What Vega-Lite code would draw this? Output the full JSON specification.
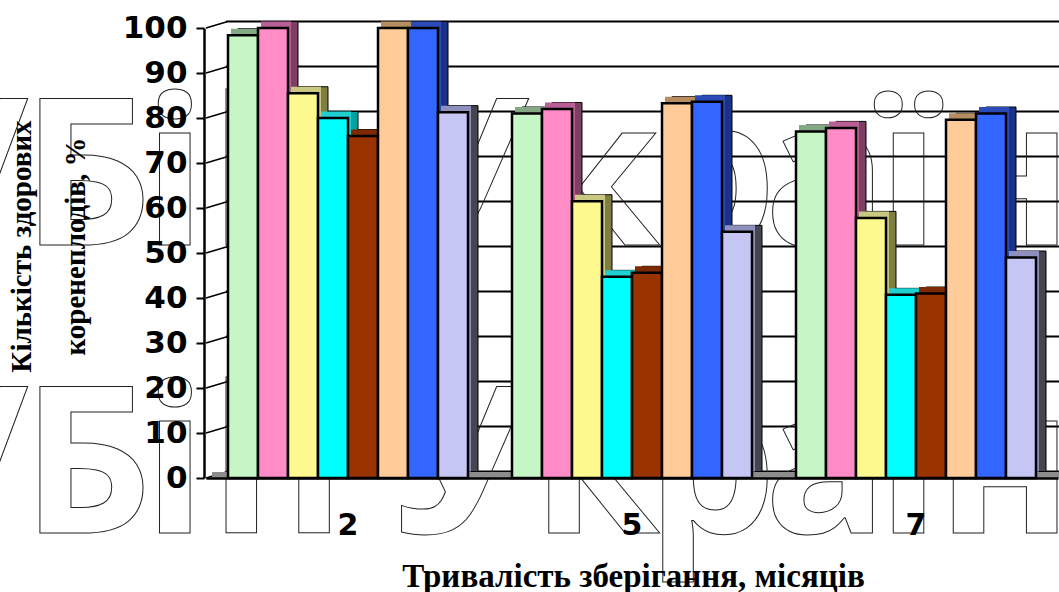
{
  "$schema": "https://vega.github.io/schema/vega-lite/v6.json",
  "width": 855,
  "height": 450,
  "autosize": "none",
  "padding": {"left": 204, "top": 28, "right": 0, "bottom": 114},
  "background": "#ffffff",
  "config": {"view": {"stroke": null}},
  "datasets": {
    "storage": [
      {"month": "2", "variant": "1", "healthy": 98.4},
      {"month": "2", "variant": "2", "healthy": 100},
      {"month": "2", "variant": "3", "healthy": 85.5},
      {"month": "2", "variant": "4", "healthy": 80},
      {"month": "2", "variant": "5", "healthy": 76},
      {"month": "2", "variant": "6", "healthy": 100},
      {"month": "2", "variant": "7", "healthy": 100},
      {"month": "2", "variant": "8", "healthy": 81.3},
      {"month": "5", "variant": "1", "healthy": 81},
      {"month": "5", "variant": "2", "healthy": 82},
      {"month": "5", "variant": "3", "healthy": 61.5},
      {"month": "5", "variant": "4", "healthy": 44.7},
      {"month": "5", "variant": "5", "healthy": 45.6},
      {"month": "5", "variant": "6", "healthy": 83.3},
      {"month": "5", "variant": "7", "healthy": 83.6},
      {"month": "5", "variant": "8", "healthy": 54.7},
      {"month": "7", "variant": "1", "healthy": 77},
      {"month": "7", "variant": "2", "healthy": 77.8},
      {"month": "7", "variant": "3", "healthy": 57.8},
      {"month": "7", "variant": "4", "healthy": 40.7},
      {"month": "7", "variant": "5", "healthy": 41},
      {"month": "7", "variant": "6", "healthy": 79.6},
      {"month": "7", "variant": "7", "healthy": 81},
      {"month": "7", "variant": "8", "healthy": 49}
    ],
    "levels": [
      {"level": 0, "back": 1.4}, {"level": 10, "back": 11.4}, {"level": 20, "back": 21.4},
      {"level": 30, "back": 31.4}, {"level": 40, "back": 41.4}, {"level": 50, "back": 51.4},
      {"level": 60, "back": 61.4}, {"level": 70, "back": 71.4}, {"level": 80, "back": 81.4},
      {"level": 90, "back": 91.4}, {"level": 100, "back": 101.4}
    ],
    "stamp": [
      {"line": "upper", "glyph": "/", "along": -1.3}, {"line": "lower", "glyph": "/", "along": -1.3},
      {"line": "upper", "glyph": "Б", "along": 8.2}, {"line": "lower", "glyph": "Б", "along": 8.2},
      {"line": "upper", "glyph": "і", "along": 16.5}, {"line": "lower", "glyph": "і", "along": 16.5},
      {"line": "upper", "glyph": "h", "along": 26.2}, {"line": "lower", "glyph": "h", "along": 26.2},
      {"line": "upper", "glyph": "У", "along": 43.5}, {"line": "lower", "glyph": "У", "along": 43.5},
      {"line": "upper", "glyph": "к", "along": 56.3}, {"line": "lower", "glyph": "к", "along": 56.3},
      {"line": "upper", "glyph": "р", "along": 67.2}, {"line": "lower", "glyph": "р", "along": 67.2},
      {"line": "upper", "glyph": "а", "along": 78}, {"line": "lower", "glyph": "а", "along": 78},
      {"line": "upper", "glyph": "ї", "along": 85.8}, {"line": "lower", "glyph": "ї", "along": 85.8},
      {"line": "upper", "glyph": "н", "along": 94.9}, {"line": "lower", "glyph": "н", "along": 94.9}
    ]
  },
  "resolve": {"scale": {"x": "independent", "y": "independent", "fill": "independent"}},
  "layer": [
    {
      "description": "back wall grid",
      "data": {"name": "levels"},
      "mark": {"type": "rule", "stroke": "#000000", "strokeWidth": 2, "yOffset": -6.5},
      "encoding": {
        "x": {"datum": 0, "type": "quantitative", "axis": null, "scale": {"domain": [0, 1], "range": [22, 860]}},
        "x2": {"datum": 1},
        "y": {"field": "level", "type": "quantitative", "axis": null, "scale": {"domain": [0, 100]}}
      }
    },
    {
      "description": "side wall ribs",
      "data": {"name": "levels"},
      "mark": {"type": "rule", "stroke": "#000000", "strokeWidth": 1.5},
      "encoding": {
        "x": {"datum": 0, "type": "quantitative", "axis": null, "scale": {"domain": [0, 1], "range": [2, 23]}},
        "x2": {"datum": 1},
        "y": {"field": "level", "type": "quantitative", "axis": null, "scale": {"domain": [0, 100]}},
        "y2": {"field": "back"}
      }
    },
    {
      "description": "outlined stamp lettering behind the columns",
      "data": {"name": "stamp"},
      "mark": {"type": "text", "font": "Open Sans", "fontWeight": "bold", "fontSize": 205, "fill": "transparent", "stroke": "#222222", "strokeWidth": 1, "align": "center", "baseline": "alphabetic"},
      "encoding": {
        "x": {"field": "along", "type": "quantitative", "axis": null, "scale": {"domain": [0, 100], "range": [-204, 855]}},
        "y": {"field": "line", "type": "nominal", "axis": null, "scale": {"type": "point", "domain": ["upper", "lower"], "range": [217, 505], "padding": 0}},
        "text": {"field": "glyph"}
      }
    },
    {
      "description": "chart floor",
      "data": {"values": [{"level": 0}]},
      "mark": {"type": "rule", "stroke": "#8c8c8c", "strokeWidth": 6, "yOffset": -3},
      "encoding": {
        "x": {"datum": 0, "type": "quantitative", "axis": null, "scale": {"domain": [0, 1], "range": [8, 860]}},
        "x2": {"datum": 1},
        "y": {"field": "level", "type": "quantitative", "axis": null, "scale": {"domain": [0, 100]}}
      }
    },
    {
      "description": "column side faces, set back by the depth of the columns",
      "data": {"name": "storage"},
      "mark": {"type": "bar", "yOffset": -6.5, "stroke": "#000000", "strokeWidth": 1},
      "encoding": {
        "x": {"field": "month", "type": "nominal", "axis": null, "scale": {"domain": ["2", "5", "7"], "range": [12, 864], "paddingInner": 0, "paddingOuter": 0}},
        "xOffset": {"field": "variant", "type": "nominal", "scale": {"domain": ["1","2","3","4","5","6","7","8"], "paddingInner": 0, "paddingOuter": 0.7333}},
        "y": {"field": "healthy", "type": "quantitative", "axis": null, "scale": {"domain": [0, 100]}},
        "fill": {"field": "variant", "type": "nominal", "legend": null, "scale": {"domain": ["1","2","3","4","5","6","7","8"], "range": ["#5f7f5f","#7f3f63","#7f7f42","#00a3a3","#6b2400","#7f5f3f","#1a3388","#45454f"]}}
      }
    },
    {
      "description": "column top faces",
      "data": {"name": "storage"},
      "mark": {"type": "bar", "yOffset": -6.5},
      "encoding": {
        "x": {"field": "month", "type": "nominal", "axis": null, "scale": {"domain": ["2", "5", "7"], "range": [5, 857], "paddingInner": 0, "paddingOuter": 0}},
        "xOffset": {"field": "variant", "type": "nominal", "scale": {"domain": ["1","2","3","4","5","6","7","8"], "paddingInner": 0, "paddingOuter": 0.7333}},
        "y": {"field": "healthy", "type": "quantitative", "axis": null, "scale": {"domain": [0, 100]}},
        "fill": {"field": "variant", "type": "nominal", "legend": null, "scale": {"domain": ["1","2","3","4","5","6","7","8"], "range": ["#83a883","#b85f96","#c8c880","#20cfcf","#7d2a00","#b58d60","#2a4bb8","#8f8fbe"]}}
      }
    },
    {
      "description": "column front faces with the axes",
      "data": {"name": "storage"},
      "mark": {"type": "bar", "stroke": "#000000", "strokeWidth": 2.5},
      "encoding": {
        "x": {
          "field": "month", "type": "nominal",
          "scale": {"domain": ["2", "5", "7"], "range": [2, 854], "paddingInner": 0, "paddingOuter": 0},
          "axis": {
            "title": "Тривалість зберігання, місяців",
            "titleFont": "Liberation Serif", "titleFontWeight": "bold", "titleFontSize": 33, "titleColor": "#000000",
            "titleX": 429, "titleY": 108, "titleBaseline": "alphabetic",
            "labelFont": "DejaVu Sans", "labelFontWeight": "bold", "labelFontSize": 30, "labelColor": "#000000",
            "labelAngle": 0, "labelPadding": 32, "ticks": false,
            "domainColor": "#000000", "domainWidth": 2.5, "zindex": 1
          }
        },
        "xOffset": {"field": "variant", "type": "nominal", "scale": {"domain": ["1","2","3","4","5","6","7","8"], "paddingInner": 0, "paddingOuter": 0.7333}},
        "y": {
          "field": "healthy", "type": "quantitative",
          "scale": {"domain": [0, 100]},
          "axis": {
            "title": ["Кількість здорових", "коренеплодів, %"],
            "titleFont": "Liberation Serif", "titleFontWeight": "bold", "titleFontSize": 29, "titleColor": "#000000",
            "titleLineHeight": 54, "titleX": -168, "titleY": 218,
            "values": [0, 10, 20, 30, 40, 50, 60, 70, 80, 90, 100],
            "labelFont": "DejaVu Sans", "labelFontWeight": "bold", "labelFontSize": 31, "labelColor": "#000000",
            "labelPadding": 9, "tickSize": 8, "tickColor": "#000000", "tickWidth": 2, "domainColor": "#000000", "domainWidth": 2.5,
            "grid": false, "zindex": 1
          }
        },
        "fill": {"field": "variant", "type": "nominal", "legend": null, "scale": {"domain": ["1","2","3","4","5","6","7","8"], "range": ["#c6f5c6","#ff8cc6","#fdf98f","#00ffff","#993300","#ffcc99","#3366ff","#c6c6f5"]}}
      }
    }
  ]
}
